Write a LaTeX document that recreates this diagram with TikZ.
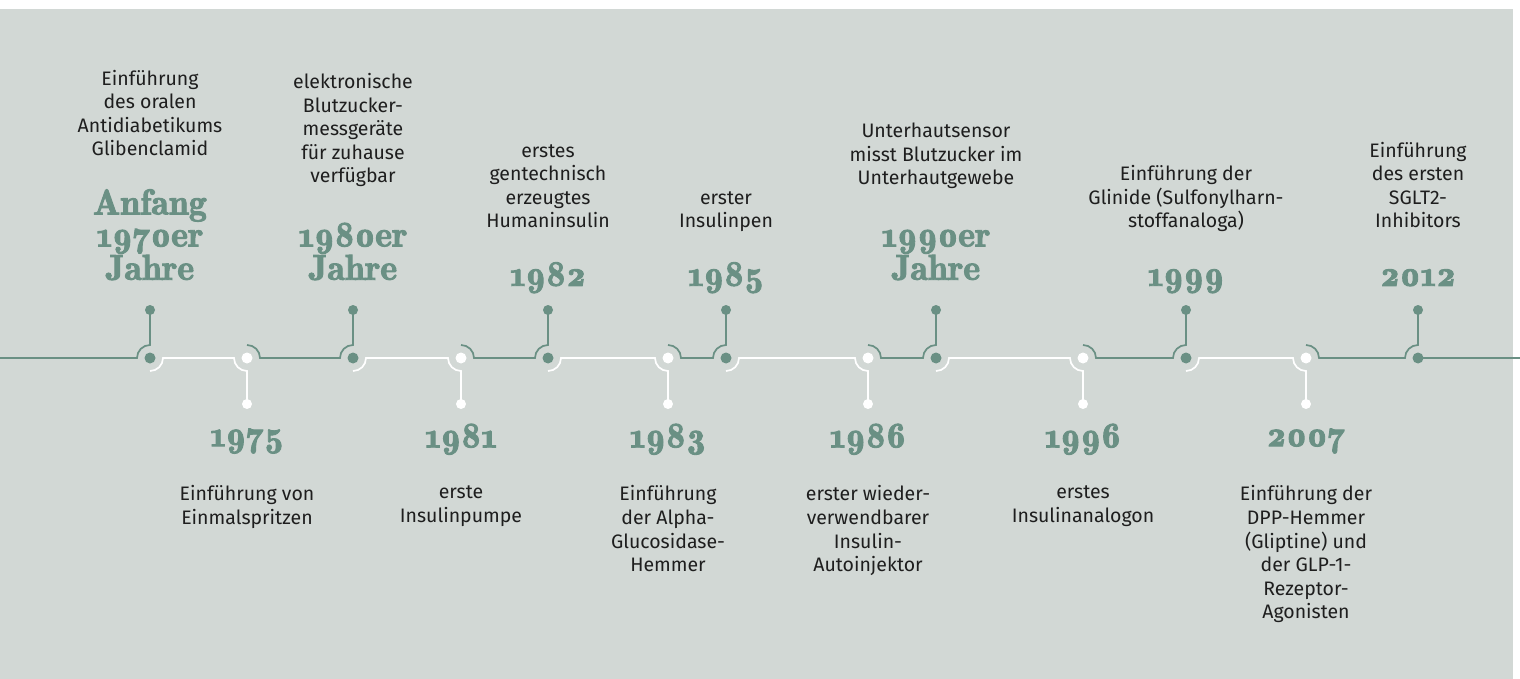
\documentclass[tikz,border=0pt]{standalone}
\usepackage{fontspec}
\setmainfont{Fira Sans}
\newfontfamily\yearfont[Numbers=OldStyle, FakeBold=2.5]{lmromandemi10-regular.otf}
\definecolor{tlgreen}{HTML}{6A9084}
\definecolor{bgc}{HTML}{D2D8D5}
\definecolor{txt}{HTML}{1E1E1E}
\newcommand\descfont{\fontsize{19.5}{23.6}\selectfont}
\newcommand\yrfont{\yearfont\fontsize{36}{32}\selectfont}
\tikzset{
  desc/.style={font=\descfont, text=txt, align=center, inner sep=0pt,
    execute at begin node=\strut, execute at end node=\strut},
  year/.style={font=\yrfont, text=tlgreen, align=center, inner sep=0pt,
    execute at begin node=\strut, execute at end node=\strut},
  gline/.style={draw=tlgreen, line width=1.7pt},
  wline/.style={draw=white, line width=1.7pt},
  gdot/.style={circle, fill=tlgreen, inner sep=0pt, minimum size=11pt},
  wdot/.style={circle, fill=white, inner sep=0pt, minimum size=11pt},
  gend/.style={circle, fill=tlgreen, inner sep=0pt, minimum size=10pt},
  wend/.style={circle, fill=white, inner sep=0pt, minimum size=10pt},
}
\begin{document}
\begin{tikzpicture}[x=1pt,y=-1pt]
\useasboundingbox (0,0) rectangle (1520,679);
\fill[bgc] (0,9) rectangle (1513,679);
% marker positions
\foreach \i/\x in {1/150,3/353,5/548,7/726,9/936,11/1186,13/1418}{
  \coordinate (c\i) at (\x,358);
  \coordinate (e\i) at (\x,310);
}
\foreach \i/\x in {2/247,4/461,6/668,8/868,10/1083,12/1306}{
  \coordinate (c\i) at (\x,358);
  \coordinate (e\i) at (\x,404);
}
\coordinate (lstart) at (0,358);
\coordinate (lend) at (1520,358);
% line segments
\draw[gline] (lstart) -- ([xshift=-13pt]c1) arc[start angle=180,end angle=90,radius=13pt] -- (e1);
\foreach \i [evaluate=\i as \j using int(\i+1)] in {1,3,5,7,9,11}{
  \draw[wline] ([yshift=-13pt]c\i) arc[start angle=-90,end angle=0,radius=13pt]
    -- ([xshift=-13pt]c\j) arc[start angle=180,end angle=270,radius=13pt] -- (e\j);
}
\foreach \i [evaluate=\i as \j using int(\i+1)] in {2,4,6,8,10,12}{
  \draw[gline] ([yshift=13pt]c\i) arc[start angle=90,end angle=0,radius=13pt]
    -- ([xshift=-13pt]c\j) arc[start angle=180,end angle=90,radius=13pt] -- (e\j);
}
\draw[gline] (c13) -- (lend);
% dots
\foreach \i in {1,3,5,7,9,11,13}{
  \node[gdot] (d\i) at (c\i) {};
  \node[gend] (t\i) at (e\i) {};
}
\foreach \i in {2,4,6,8,10,12}{
  \node[wdot] (d\i) at (c\i) {};
  \node[wend] (t\i) at (e\i) {};
}
% upper labels
\node[desc, anchor=south] (u1) at (150,163.1) {Einführung\\des oralen\\Antidiabetikums\\Glibenclamid};
\node[year, anchor=south] (y1) at (150,289.6) {Anfang\\1970er\\Jahre};
\node[desc, anchor=south] (u3) at (353,190.1) {elektronische\\Blutzucker-\\messgeräte\\für zuhause\\verfügbar};
\node[year, anchor=south] (y3) at (353,289.6) {1980er\\Jahre};
\node[desc, anchor=south] (u5) at (548,235.1) {erstes\\gentechnisch\\erzeugtes\\Humaninsulin};
\node[year, anchor=south] (y5) at (548,295.6) {1982};
\node[desc, anchor=south] (u7) at (726,235.1) {erster\\Insulinpen};
\node[year, anchor=south] (y7) at (726,295.6) {1985};
\node[desc, anchor=south] (u9) at (936,192.1) {Unterhautsensor\\misst Blutzucker im\\Unterhautgewebe};
\node[year, anchor=south] (y9) at (936,289.6) {1990er\\Jahre};
\node[desc, anchor=south] (u11) at (1186,235.1) {Einführung der\\Glinide (Sulfonylharn-\\stoffanaloga)};
\node[year, anchor=south] (y11) at (1186,295.6) {1999};
\node[desc, anchor=south] (u13) at (1418,235.1) {Einführung\\des ersten\\SGLT2-\\Inhibitors};
\node[year, anchor=south] (y13) at (1418,295.6) {2012};
% lower labels
\node[year, anchor=north] (y2) at (247,423.6) {1975};
\node[desc, anchor=north] (l2) at (247,485.5) {Einführung von\\Einmalspritzen};
\node[year, anchor=north] (y4) at (461,423.6) {1981};
\node[desc, anchor=north] (l4) at (461,485.5) {erste\\Insulinpumpe};
\node[year, anchor=north] (y6) at (668,423.6) {1983};
\node[desc, anchor=north] (l6) at (668,485.5) {Einführung\\der Alpha-\\Glucosidase-\\Hemmer};
\node[year, anchor=north] (y8) at (868,423.6) {1986};
\node[desc, anchor=north] (l8) at (868,485.5) {erster wieder-\\verwendbarer\\Insulin-\\Autoinjektor};
\node[year, anchor=north] (y10) at (1083,423.6) {1996};
\node[desc, anchor=north] (l10) at (1083,485.5) {erstes\\Insulinanalogon};
\node[year, anchor=north] (y12) at (1306,423.6) {2007};
\node[desc, anchor=north] (l12) at (1306,485.5) {Einführung der\\DPP-Hemmer\\(Gliptine) und\\der GLP-1-\\Rezeptor-\\Agonisten};
\end{tikzpicture}
\end{document}
